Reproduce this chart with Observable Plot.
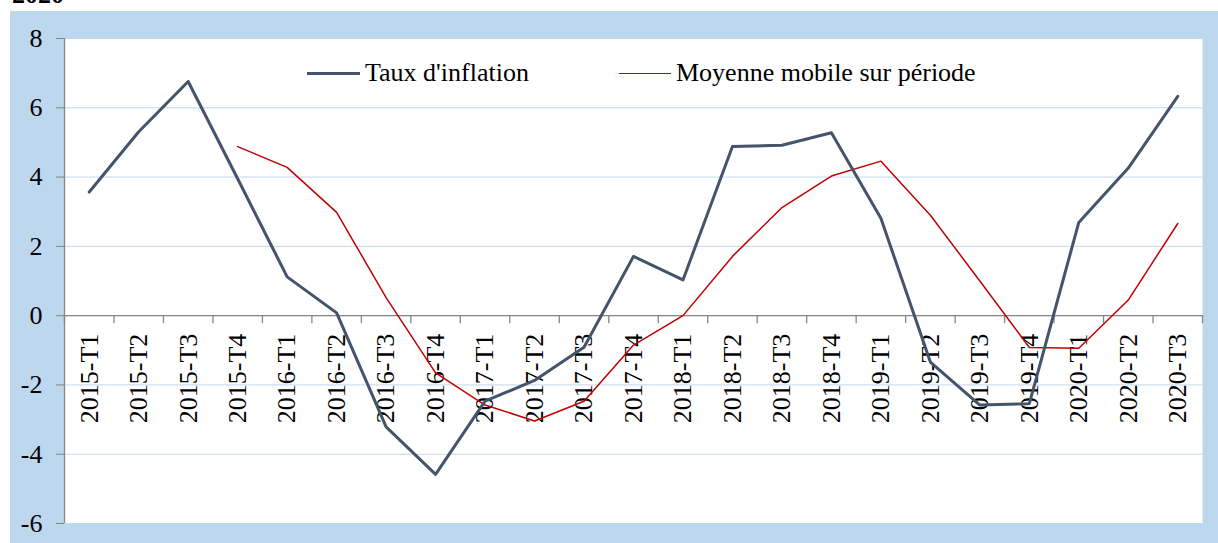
<!DOCTYPE html>
<html>
<head>
<meta charset="utf-8">
<script src="https://cdn.jsdelivr.net/npm/d3@7"></script>
<script src="https://cdn.jsdelivr.net/npm/@observablehq/plot@0.6"></script>
<style>
  html, body { margin: 0; padding: 0; background: white; overflow: hidden; }
  #wrap { position: relative; width: 1218px; height: 543px; font-family: 'Liberation Serif'; }
  #bg { position: absolute; left: 10px; top: 11px; width: 1208px; height: 532px; background: #BDD7EE; }
  #chart { position: absolute; left: 0; top: 0; }
  #title { position: absolute; left: 12px; top: -18.5px; font-family: 'Liberation Serif'; font-size: 26px; line-height: 26px; font-weight: bold; color: #000; white-space: nowrap; }
  .lg-line { position: absolute; }
  .lg-text { position: absolute; font-family: 'Liberation Serif'; font-size: 26px; line-height: 26px; color: #000; white-space: nowrap; }
  svg text { font-family: 'Liberation Serif'; }
</style>
</head>
<body>
<div id="wrap">
  <div id="bg"></div>
  <div id="title">2020</div>
  <div id="chart"></div>
  <div class="lg-line" style="left:307px; top:71.8px; width:53px; height:3px; background:#44546A;"></div>
  <div class="lg-text" style="left:365px; top:60px;">Taux d'inflation</div>
  <div class="lg-line" style="left:619px; top:72.5px; width:52px; height:1.5px; background:#C00000;"></div>
  <div class="lg-text" style="left:676px; top:60px;">Moyenne mobile sur période</div>
</div>
<script>
const categories = ["2015-T1","2015-T2","2015-T3","2015-T4","2016-T1","2016-T2","2016-T3","2016-T4","2017-T1","2017-T2","2017-T3","2017-T4","2018-T1","2018-T2","2018-T3","2018-T4","2019-T1","2019-T2","2019-T3","2019-T4","2020-T1","2020-T2","2020-T3"];
const inflation = [3.57, 5.31, 6.76, 3.95, 1.12, 0.08, -3.21, -4.58, -2.47, -1.87, -0.91, 1.71, 1.03, 4.88, 4.92, 5.28, 2.81, -1.34, -2.58, -2.54, 2.69, 4.26, 6.33];
const movingAvg = [null, null, null, 4.88, 4.28, 2.98, 0.52, -1.65, -2.58, -3.04, -2.47, -0.85, 0.0, 1.71, 3.12, 4.03, 4.46, 2.90, 1.00, -0.92, -0.94, 0.45, 2.66];
const yTicks = [-6, -4, -2, 0, 2, 4, 6, 8];
const seriesNames = ["Taux d'inflation", "Moyenne mobile sur période"];

const rows1 = categories.map((c, i) => ({i, cat: c, v: inflation[i]}));
const rows2 = categories.map((c, i) => ({i, cat: c, v: movingAvg[i]})).filter(d => d.v != null);
const boundaries = d3.range(categories.length + 1).map(k => k - 0.5);

const plot = Plot.plot({
  width: 1218,
  height: 543,
  marginLeft: 64,
  marginRight: 16,
  marginTop: 38,
  marginBottom: 20,
  style: {background: "transparent", fontFamily: "Liberation Serif", fontSize: "26px", color: "#000"},
  x: {type: "linear", domain: [-0.5, categories.length - 0.5], axis: null},
  y: {domain: [-6, 8], ticks: yTicks, label: null},
  marks: [
    Plot.frame({fill: "white", stroke: null}),
    Plot.gridY(yTicks, {stroke: "#C3D6EF", strokeOpacity: 1, strokeWidth: 1}),
    Plot.axisY(yTicks, {tickSize: 8, tickPadding: 14, stroke: "#868686", fill: "#000", fontSize: 26, fontFamily: "Liberation Serif", tickFormat: d => String(d), label: null}),
    Plot.ruleX([-0.5], {stroke: "#868686", strokeWidth: 1.3}),
    Plot.ruleY([0], {stroke: "#868686", strokeWidth: 1.3}),
    Plot.ruleX(boundaries, {x: d => d, y1: 0, y2: 0, insetBottom: -8, stroke: "#868686", strokeWidth: 1.3}),
    Plot.text(categories, {x: (d, i) => i, y: 0, text: d => d, rotate: -90, textAnchor: "end", lineAnchor: "middle", dy: 18, fontSize: 26, fontFamily: "Liberation Serif", fill: "#000"}),
    Plot.line(rows2, {x: "i", y: "v", stroke: "#C00000", strokeWidth: 1.5, title: () => seriesNames[1]}),
    Plot.line(rows1, {x: "i", y: "v", stroke: "#44546A", strokeWidth: 3, title: () => seriesNames[0]})
  ]
});
document.getElementById("chart").appendChild(plot);
</script>
</body>
</html>
